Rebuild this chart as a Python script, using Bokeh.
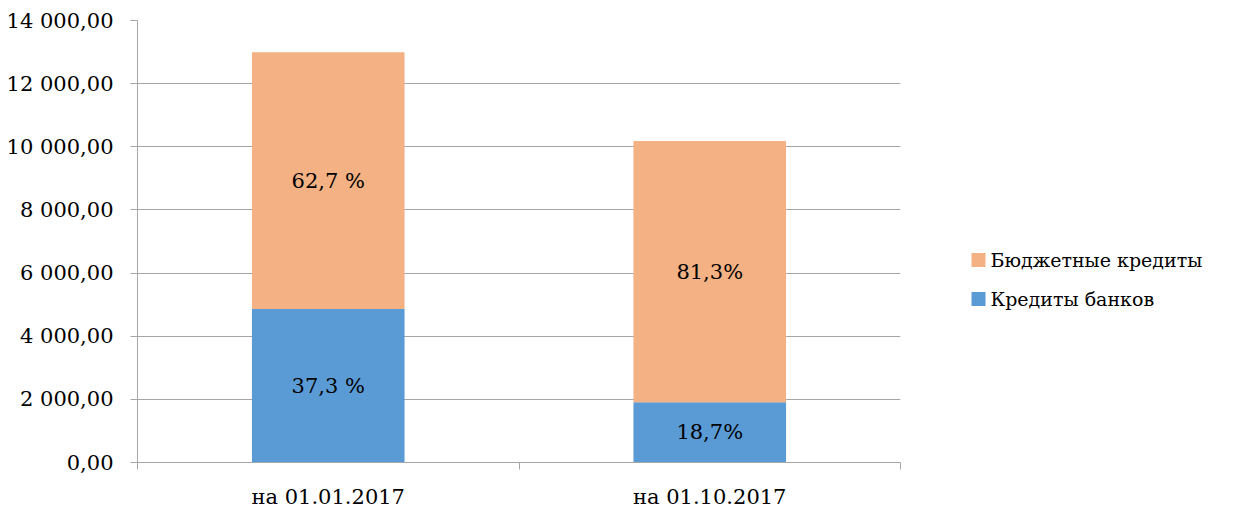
from bokeh.plotting import figure
from bokeh.layouts import row
from bokeh.models import ColumnDataSource, FixedTicker, Range1d
from bokeh.core.properties import value
from bokeh.embed import file_html
from bokeh.resources import INLINE

categories = ["на 01.01.2017", "на 01.10.2017"]
bank_credits = [4860, 1910]          # Кредиты банков
budget_credits = [8135, 8270]         # Бюджетные кредиты
bank_labels = ["37,3 %", "18,7%"]
budget_labels = ["62,7 %", "81,3%"]
y_ticks = [0, 2000, 4000, 6000, 8000, 10000, 12000, 14000]
y_tick_labels = ["0,00", "2 000,00", "4 000,00", "6 000,00", "8 000,00",
                 "10 000,00", "12 000,00", "14 000,00"]
legend_labels = ["Бюджетные кредиты", "Кредиты банков"]

FONT = "DejaVu Serif"
FS = "21px"
FS_LEG = "19px"
ORANGE = "#F4B183"
BLUE = "#5B9BD5"
GRAY = "#A6A6A6"
legend_colors = [ORANGE, BLUE]

W, H = 1223, 511
WM = 906                              # width of the chart part
FL, FR, FT, FB = 137, 900, 20, 470    # frame edges in figure pixels

xs = [i + 0.5 for i in range(len(categories))]
tops_total = [b + g for b, g in zip(bank_credits, budget_credits)]
src = ColumnDataSource(dict(
    x=xs, bank=bank_credits, total=tops_total,
    bank_mid=[b / 2 for b in bank_credits],
    budget_mid=[b + g / 2 for b, g in zip(bank_credits, budget_credits)],
    bank_lab=bank_labels, budget_lab=budget_labels,
))

p = figure(width=WM, height=H, output_backend="svg", toolbar_location=None,
           x_range=Range1d(0, len(categories)), y_range=Range1d(0, 14000),
           min_border_left=FL, min_border_right=WM - FR, min_border_top=FT,
           min_border_bottom=H - FB)
p.outline_line_color = None
p.background_fill_color = "white"

p.vbar(x="x", width=0.4, bottom=0, top="bank", source=src,
       fill_color=BLUE, line_color=None)
p.vbar(x="x", width=0.4, bottom="bank", top="total", source=src,
       fill_color=ORANGE, line_color=None)

for col, lab in (("bank_mid", "bank_lab"), ("budget_mid", "budget_lab")):
    p.text(x="x", y=col, text=lab, source=src, text_font=value(FONT),
           text_font_size=FS, text_align="center", text_baseline="middle",
           text_color="black")

# y axis
p.yaxis.ticker = FixedTicker(ticks=y_ticks)
p.yaxis.major_label_overrides = {t: l for t, l in zip(y_ticks, y_tick_labels)}
p.yaxis.major_label_text_font = FONT
p.yaxis.major_label_text_font_size = FS
p.yaxis.major_label_text_color = "black"
p.yaxis.major_tick_out = 7
p.yaxis.major_tick_in = 0
p.yaxis.minor_tick_line_color = None
p.yaxis.major_label_standoff = 17
p.yaxis.axis_line_color = GRAY
p.yaxis.major_tick_line_color = GRAY

# x axis: labels at category centres, ticks at category boundaries
p.xaxis.ticker = FixedTicker(ticks=xs, minor_ticks=[0, 1, 2])
p.xaxis.major_label_overrides = {x: c for x, c in zip(xs, categories)}
p.xaxis.major_label_text_font = FONT
p.xaxis.major_label_text_font_size = FS
p.xaxis.major_label_text_color = "black"
p.xaxis.major_tick_out = 0
p.xaxis.major_tick_in = 0
p.xaxis.major_tick_line_color = None
p.xaxis.minor_tick_out = 7
p.xaxis.minor_tick_in = 0
p.xaxis.minor_tick_line_color = GRAY
p.xaxis.axis_line_color = GRAY
p.xaxis.major_label_standoff = 15

p.xgrid.grid_line_color = None
p.ygrid.ticker = FixedTicker(ticks=y_ticks)
p.ygrid.grid_line_color = GRAY
p.ygrid.grid_line_width = 1

# legend panel (pixel-like coordinates, y downward)
WL = W - WM
q = figure(width=WL, height=H, output_backend="svg", toolbar_location=None,
           x_range=Range1d(0, WL), y_range=Range1d(H, 0),
           min_border=0, x_axis_type=None, y_axis_type=None)
q.outline_line_color = None
q.xgrid.grid_line_color = None
q.ygrid.grid_line_color = None
leg_src = ColumnDataSource(dict(
    x=[WL - 1223 + 978] * 2, tx=[WL - 1223 + 990] * 2, y=[277, 322],
    label=legend_labels, color=legend_colors))
q.rect(x="x", y="y", width=14, height=14, width_units="screen", height_units="screen",
       fill_color="color", line_color=None, source=leg_src)
q.text(x="tx", y="y", text="label", source=leg_src, text_font=value(FONT),
       text_font_size=FS_LEG, text_align="left", text_baseline="middle",
       text_color="black")

layout = row(p, q, spacing=0)
open("out.html", "w").write(file_html(layout, INLINE))
